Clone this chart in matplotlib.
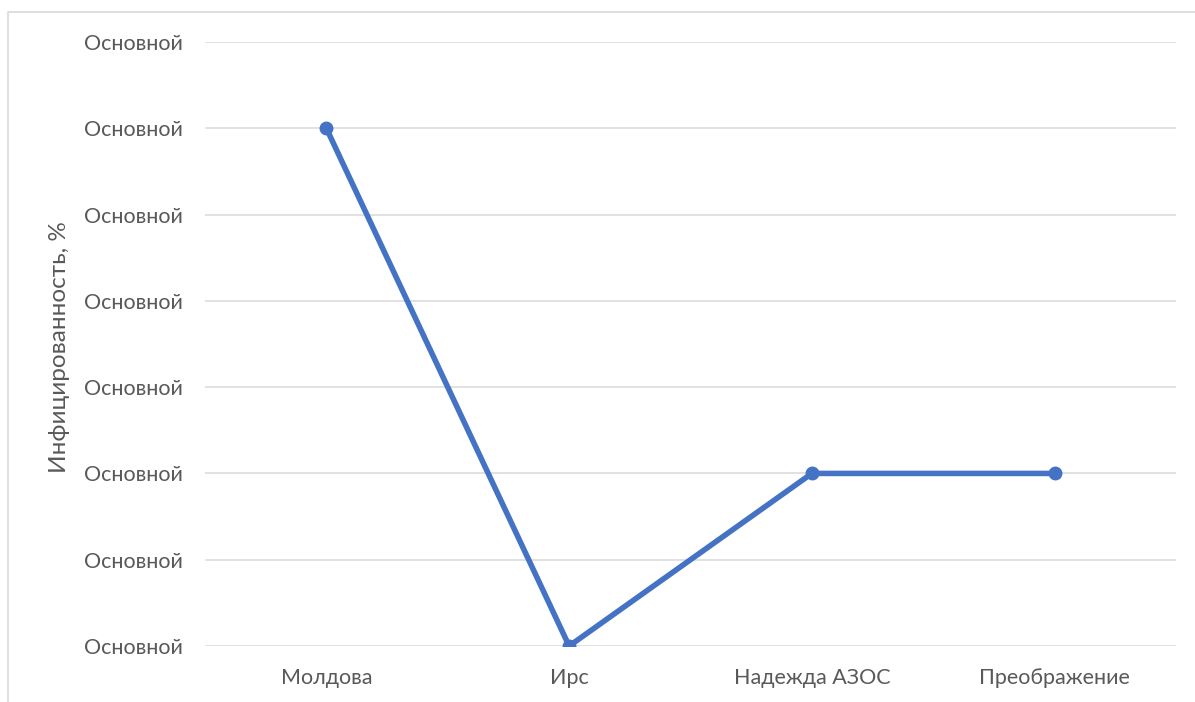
import matplotlib
matplotlib.use("Agg")
import matplotlib.pyplot as plt
from matplotlib.lines import Line2D

# данные
categories = ["Молдова", "Ирс", "Надежда АЗОС", "Преображение"]
values = [6, 0, 2, 2]
y_ticks = [0, 1, 2, 3, 4, 5, 6, 7]
y_tick_labels = ["Основной"] * len(y_ticks)

plt.rcParams['font.family'] = ['Lato', 'DejaVu Sans']

fig = plt.figure(figsize=(11.95, 7.02), dpi=100)
ax = fig.add_axes([205 / 1195, 1 - 646 / 702, (1176 - 205) / 1195, (646 - 42) / 702])

x = list(range(len(categories)))
ax.plot(x, values, color="#4472C4", linewidth=4, marker="o", markersize=9,
        solid_capstyle="round", zorder=3)

ax.set_xlim(-0.5, len(categories) - 0.5)
ax.set_ylim(y_ticks[0], y_ticks[-1])
ax.set_xticks(x)
ax.set_xticklabels(categories)
ax.set_yticks(y_ticks)
ax.set_yticklabels(y_tick_labels)

ax.grid(axis="y", color="#D9D9D9", linewidth=1.1)
ax.set_axisbelow(True)
for s in ax.spines.values():
    s.set_visible(False)
ax.tick_params(axis="both", length=0, labelsize=15.5, labelcolor="#595959")
ax.tick_params(axis="y", pad=16)
ax.tick_params(axis="x", pad=16)
for lbl in ax.get_yticklabels() + ax.get_xticklabels():
    lbl.set_clip_on(False)

fig.text(59 / 1195, 1 - 347 / 702, "Инфицированность, %", rotation=90,
         ha="center", va="center", fontsize=17.5, color="#595959")

# рамка области диаграммы
fig.add_artist(Line2D([8 / 1195, 8 / 1195, 1.0], [0.0, 1 - 12 / 702, 1 - 12 / 702],
                      transform=fig.transFigure, color="#D9D9D9", linewidth=1.2))

fig.savefig("out.png", dpi=100)
